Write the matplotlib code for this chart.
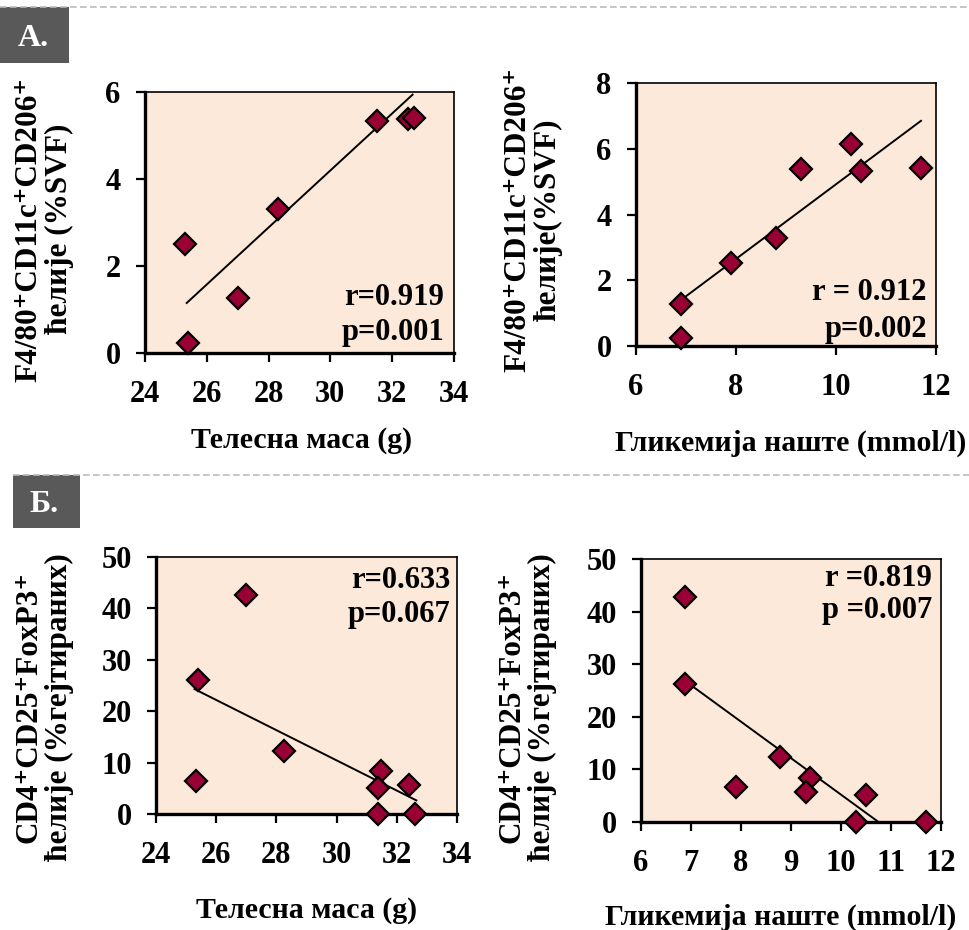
import matplotlib
matplotlib.use("Agg")
import matplotlib.pyplot as plt
from matplotlib.patches import Rectangle
from matplotlib.lines import Line2D

plt.rcParams['font.family'] = ['Liberation Serif', 'DejaVu Serif']
plt.rcParams['font.weight'] = 'bold'

# ---------------- data ----------------
# A-left: body mass vs F4/80+CD11c+CD206+
a1_x = [25.3, 25.4, 27.0, 28.3, 31.5, 32.5, 32.7]
a1_y = [2.5, 0.23, 1.27, 3.3, 5.33, 5.37, 5.41]
a1_trend_x = [25.35, 32.66]
a1_trend_y = [1.15, 5.94]

# A-right: fasting glycemia vs F4/80+CD11c+CD206+
a2_x = [6.9, 6.9, 7.9, 8.8, 9.3, 10.3, 10.5, 11.7]
a2_y = [1.28, 0.23, 2.51, 3.29, 5.37, 6.15, 5.32, 5.42]
a2_trend_x = [6.9, 11.7]
a2_trend_y = [1.4, 6.85]

# B-left: body mass vs CD4+CD25+FoxP3+
b1_x = [27.0, 25.4, 25.33, 28.25, 31.48, 31.37, 31.37, 32.42, 32.6]
b1_y = [42.7, 26.1, 6.5, 12.3, 8.4, 5.1, 0.0, 5.7, 0.0]
b1_trend_x = [25.28, 32.65]
b1_trend_y = [24.3, 2.65]

# B-right: fasting glycemia vs CD4+CD25+FoxP3+
b2_x = [6.89, 6.89, 7.9, 8.79, 9.38, 9.3, 10.5, 10.3, 11.7]
b2_y = [42.8, 26.2, 6.6, 12.3, 8.4, 5.7, 5.2, 0.0, 0.0]
b2_trend_x = [6.9, 10.75]
b2_trend_y = [26.7, 0.0]

xlab_mass = "Телесна маса (g)"
xlab_gly = "Гликемија наште (mmol/l)"
ylab_f4 = "F4/80\u207aCD11c\u207aCD206\u207a\nћелије (%SVF)"
ylab_f4b = "F4/80\u207aCD11c\u207aCD206\u207a\nћелије(%SVF)"
ylab_cd4 = "CD4\u207aCD25\u207aFoxP3\u207a\nћелије (%гејтираних)"

W, H = 970, 930
fig = plt.figure(figsize=(W / 100, H / 100), dpi=100)
fig.patch.set_facecolor('white')

BG = '#FDE9D9'
MK = '#990033'


def px_axes(l, r, t, b):
    return fig.add_axes([l / W, 1 - b / H, (r - l) / W, (b - t) / H])


def style(ax, xlim, ylim, xt, yt):
    ax.set_facecolor(BG)
    ax.set_xlim(*xlim)
    ax.set_ylim(*ylim)
    ax.set_xticks(xt)
    ax.set_yticks(yt)
    for s in ['left', 'bottom']:
        ax.spines[s].set_linewidth(2.4)
    for s in ['top', 'right']:
        ax.spines[s].set_linewidth(1.2)
    ax.tick_params(axis='both', direction='out', length=6.5, width=1.6,
                   labelsize=22)
    ax.tick_params(axis='x', pad=13)
    ax.tick_params(axis='y', pad=11)
    for lab in ax.get_xticklabels() + ax.get_yticklabels():
        lab.set_fontweight('bold')


def scatter(ax, x, y, tx, ty):
    ax.plot(tx, ty, color='black', lw=1.4, zorder=2)
    ax.plot(x, y, linestyle='none', marker='D', markersize=11.5,
            markerfacecolor=MK, markeredgecolor='black', markeredgewidth=1.6,
            zorder=3, clip_on=False)


def stats(ax, r, p, xr, yr, yp):
    ax.text(xr, yr, r, transform=ax.transAxes, ha='right', va='baseline',
            fontsize=22, fontweight='bold')
    ax.text(xr, yp, p, transform=ax.transAxes, ha='right', va='baseline',
            fontsize=22, fontweight='bold')


def ftext(x, y, s, **kw):
    fig.text(x / W, 1 - y / H, s, **kw)


# A-left
ax1 = px_axes(145, 454, 92, 353)
style(ax1, (24, 34), (0, 6), [24, 26, 28, 30, 32, 34], [0, 2, 4, 6])
scatter(ax1, a1_x, a1_y, a1_trend_x, a1_trend_y)
stats(ax1, "r=0.919", "p=0.001", 0.968, 0.184, 0.05)

# A-right
ax2 = px_axes(636, 936, 83, 346)
style(ax2, (6, 12), (0, 8), [6, 8, 10, 12], [0, 2, 4, 6, 8])
scatter(ax2, a2_x, a2_y, a2_trend_x, a2_trend_y)
stats(ax2, "r = 0.912", "p=0.002", 0.969, 0.175, 0.035)

# B-left
ax3 = px_axes(156, 457, 557, 814)
style(ax3, (24, 34), (0, 50), [24, 26, 28, 30, 32, 34], [0, 10, 20, 30, 40, 50])
scatter(ax3, b1_x, b1_y, b1_trend_x, b1_trend_y)
stats(ax3, "r=0.633", "p=0.067", 0.977, 0.878, 0.748)

# B-right
ax4 = px_axes(641, 941, 559, 822)
style(ax4, (6, 12), (0, 50), [6, 7, 8, 9, 10, 11, 12], [0, 10, 20, 30, 40, 50])
scatter(ax4, b2_x, b2_y, b2_trend_x, b2_trend_y)
stats(ax4, "r =0.819", "p =0.007", 0.97, 0.897, 0.774)

# axis labels
xlkw = dict(ha='center', va='center', fontsize=21.5, fontweight='bold')
ftext(302, 441, xlab_mass, **xlkw)
ftext(791, 443, xlab_gly, **xlkw)
ftext(307, 910, xlab_mass, **xlkw)
ftext(781, 917, xlab_gly, **xlkw)

ylkw = dict(ha='center', va='center', rotation=90, fontsize=22.5,
            fontweight='bold', linespacing=1.05, multialignment='center')
ftext(44, 229, ylab_f4, **ylkw)
ftext(533, 220, ylab_f4b, **ylkw)
ftext(44, 707, ylab_cd4, **ylkw)
ftext(527, 707, ylab_cd4, **ylkw)

# dashed separators
fig.add_artist(Line2D([0, 1], [1 - 7 / H, 1 - 7 / H], color='#BBBBBB', lw=1.2,
                      linestyle=(0, (4, 2)), transform=fig.transFigure))
fig.add_artist(Line2D([13 / W, 1], [1 - 475 / H, 1 - 475 / H], color='#BBBBBB',
                      lw=1.2, linestyle=(0, (4, 2)), transform=fig.transFigure))

# panel label boxes
fig.add_artist(Rectangle((0, 1 - 63 / H), 69 / W, 56 / H, facecolor='#595959',
                         edgecolor='none', transform=fig.transFigure))
fig.add_artist(Rectangle((13 / W, 1 - 528 / H), 67 / W, 53 / H, facecolor='#595959',
                         edgecolor='none', transform=fig.transFigure))
ftext(33, 38, "А.", ha='center', va='center', fontsize=23, fontweight='bold', color='white')
ftext(44, 504, "Б.", ha='center', va='center', fontsize=23, fontweight='bold', color='white')

fig.savefig('out.png', dpi=100, facecolor='white')
